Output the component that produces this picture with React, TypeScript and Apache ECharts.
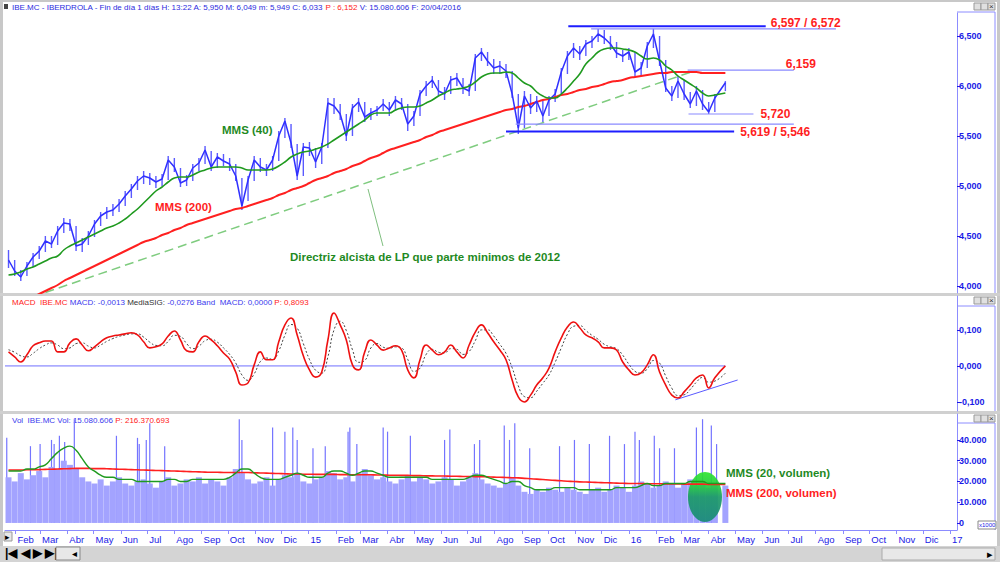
import React, { useEffect, useRef } from "react";
import * as echarts from "echarts";

const FONT = "'Liberation Sans', Arial, sans-serif";

// ---------- data ----------
const priceClose = [
  4.26, 4.15, 4.09, 4.2, 4.29, 4.35, 4.45, 4.42, 4.55, 4.63, 4.62, 4.4, 4.42, 4.5, 4.62, 4.7, 4.74, 4.76, 4.82, 4.9,
  4.97, 5.05, 5.1, 5.08, 5.04, 5.07, 5.26, 5.19, 5.03, 5.06, 5.18, 5.23, 5.36, 5.19, 5.29, 5.25, 5.22, 5.1, 4.8, 5.06,
  5.26, 5.19, 5.16, 5.26, 5.5, 5.65, 5.43, 5.1, 5.39, 5.38, 5.24, 5.39, 5.83, 5.8, 5.72, 5.5, 5.78, 5.84, 5.69, 5.73,
  5.76, 5.82, 5.76, 5.86, 5.82, 5.62, 5.7, 5.92, 6.0, 6.06, 5.95, 5.92, 6.06, 6.08, 5.98, 5.95, 6.28, 6.34, 6.25, 6.18,
  6.2, 6.15, 5.92, 5.58, 5.9, 5.78, 5.85, 5.7, 5.86, 5.92, 6.14, 6.3, 6.38, 6.32, 6.42, 6.45, 6.52, 6.48, 6.42, 6.33,
  6.3, 6.34, 6.14, 6.18, 6.4, 6.52, 6.25, 5.98, 5.9, 6.05, 5.92, 5.82, 5.95, 5.82, 5.74, 5.88, 6.033,
];
const priceHigh = [
  4.36, 4.26, 4.16, 4.24, 4.33, 4.4, 4.5, 4.5, 4.6, 4.68, 4.67, 4.6, 4.48, 4.55, 4.66, 4.74, 4.79, 4.82, 4.87, 4.95,
  5.02, 5.1, 5.15, 5.13, 5.1, 5.12, 5.3, 5.28, 5.18, 5.11, 5.22, 5.28, 5.4, 5.35, 5.33, 5.32, 5.28, 5.22, 5.08, 5.1,
  5.3, 5.28, 5.22, 5.3, 5.55, 5.68, 5.62, 5.42, 5.43, 5.44, 5.38, 5.43, 5.88, 5.88, 5.82, 5.72, 5.82, 5.88, 5.84, 5.78,
  5.8, 5.87, 5.84, 5.9, 5.88, 5.82, 5.75, 5.96, 6.05, 6.1, 6.06, 5.99, 6.1, 6.13, 6.08, 6.02, 6.32, 6.38, 6.34, 6.27,
  6.25, 6.22, 6.15, 5.92, 5.95, 5.92, 5.9, 5.85, 5.9, 5.97, 6.18, 6.35, 6.43, 6.4, 6.46, 6.5, 6.57, 6.56, 6.5, 6.44,
  6.36, 6.38, 6.34, 6.24, 6.44, 6.572, 6.5, 6.26, 6.0, 6.1, 6.06, 5.94, 6.0, 5.96, 5.84, 5.92, 6.049,
];
const priceLow = [
  4.18, 4.1, 4.05, 4.1, 4.19, 4.27, 4.34, 4.38, 4.41, 4.53, 4.55, 4.35, 4.34, 4.41, 4.49, 4.6, 4.67, 4.7, 4.74, 4.8,
  4.88, 4.96, 5.02, 5.01, 4.98, 5.0, 5.06, 5.14, 4.99, 5.0, 5.05, 5.15, 5.22, 5.15, 5.18, 5.2, 5.15, 5.05, 4.76, 4.85,
  5.05, 5.14, 5.1, 5.15, 5.25, 5.48, 5.38, 5.06, 5.1, 5.3, 5.18, 5.22, 5.38, 5.72, 5.66, 5.45, 5.5, 5.74, 5.64, 5.66,
  5.7, 5.75, 5.7, 5.75, 5.76, 5.55, 5.6, 5.7, 5.9, 5.98, 5.9, 5.86, 5.92, 6.0, 5.92, 5.9, 5.95, 6.25, 6.2, 6.12,
  6.12, 6.08, 5.88, 5.52, 5.58, 5.72, 5.74, 5.64, 5.7, 5.84, 5.92, 6.12, 6.28, 6.26, 6.3, 6.38, 6.44, 6.42, 6.36, 6.28,
  6.24, 6.26, 6.1, 6.1, 6.18, 6.38, 6.2, 5.94, 5.85, 5.88, 5.86, 5.78, 5.8, 5.76, 5.72, 5.74, 5.949,
];
const mms40 = [
  4.11, 4.12, 4.14, 4.17, 4.19, 4.22, 4.25, 4.28, 4.3, 4.36, 4.4, 4.43, 4.46, 4.49, 4.52, 4.55, 4.58, 4.6, 4.63, 4.67,
  4.72, 4.77, 4.83, 4.89, 4.95, 4.99, 5.04, 5.08, 5.09, 5.09, 5.11, 5.14, 5.16, 5.18, 5.19, 5.19, 5.19, 5.19, 5.18, 5.16,
  5.16, 5.16, 5.16, 5.17, 5.2, 5.24, 5.29, 5.32, 5.34, 5.35, 5.37, 5.39, 5.42, 5.46, 5.5, 5.54, 5.58, 5.62, 5.66, 5.71,
  5.73, 5.73, 5.73, 5.76, 5.78, 5.79, 5.79, 5.8, 5.83, 5.86, 5.9, 5.93, 5.96, 5.97, 5.98, 6.0, 6.04, 6.09, 6.12, 6.13,
  6.13, 6.14, 6.13, 6.08, 6.03, 6.0, 5.94, 5.9, 5.88, 5.88, 5.92, 5.98, 6.05, 6.12, 6.22, 6.28, 6.34, 6.37, 6.38, 6.38,
  6.37, 6.36, 6.34, 6.3, 6.27, 6.28, 6.26, 6.2, 6.16, 6.1, 6.06, 6.02, 5.98, 5.93, 5.9, 5.91, 5.93,
];
const mms200 = [
  3.77, 3.8, 3.83, 3.86, 3.89, 3.92, 3.95, 3.98, 4.01, 4.05, 4.08, 4.11, 4.14, 4.17, 4.2, 4.23, 4.26, 4.29, 4.32, 4.35,
  4.38, 4.41, 4.44, 4.46, 4.48, 4.51, 4.53, 4.56, 4.58, 4.61, 4.63, 4.65, 4.67, 4.69, 4.71, 4.73, 4.75, 4.77, 4.78, 4.8,
  4.82, 4.84, 4.86, 4.88, 4.91, 4.93, 4.96, 4.98, 5.0, 5.03, 5.06, 5.08, 5.1, 5.13, 5.15, 5.17, 5.2, 5.22, 5.25, 5.28,
  5.3, 5.33, 5.36, 5.38, 5.4, 5.42, 5.44, 5.46, 5.49, 5.51, 5.54, 5.56, 5.58, 5.6, 5.62, 5.64, 5.66, 5.68, 5.7, 5.72,
  5.74, 5.76, 5.77, 5.79, 5.8, 5.82, 5.84, 5.86, 5.87, 5.89, 5.91, 5.92, 5.94, 5.96, 5.97, 5.99, 6.0, 6.02, 6.04, 6.05,
  6.06, 6.08, 6.09, 6.1, 6.11, 6.12, 6.13, 6.13, 6.14, 6.14, 6.14, 6.14, 6.14, 6.13, 6.13, 6.13, 6.13,
];
const macd = [
  0.039, 0.025, 0.011, 0.031, 0.056, 0.064, 0.069, 0.069, 0.039, 0.039, 0.064, 0.075, 0.058, 0.042, 0.053, 0.067, 0.078, 0.083, 0.086, 0.089,
  0.092, 0.086, 0.067, 0.05, 0.053, 0.061, 0.083, 0.097, 0.072, 0.042, 0.039, 0.067, 0.083, 0.072, 0.056, 0.036, 0.019, -0.017, -0.053, -0.047,
  0.003, 0.039, 0.017, 0.017, 0.067, 0.114, 0.133, 0.086, 0.028, -0.011, -0.031, -0.017, 0.072, 0.147, 0.114, 0.072, 0.003, -0.011, 0.039, 0.072,
  0.058, 0.044, 0.05, 0.056, 0.044, -0.011, -0.033, 0.017, 0.058, 0.044, 0.031, 0.039, 0.058, 0.039, 0.022, 0.058, 0.094, 0.114, 0.092, 0.067,
  0.044, 0.017, -0.039, -0.086, -0.1, -0.081, -0.053, -0.033, -0.006, 0.039, 0.078, 0.108, 0.122, 0.106, 0.086, 0.078, 0.067, 0.05, 0.05, 0.044,
  0.011, -0.011, -0.025, -0.019, 0.003, 0.031, -0.017, -0.053, -0.081, -0.089, -0.072, -0.053, -0.033, -0.025, -0.061, -0.033, 0.0,
];
const macdSignal = [
  0.045, 0.038, 0.028, 0.025, 0.035, 0.048, 0.058, 0.064, 0.058, 0.048, 0.05, 0.062, 0.064, 0.055, 0.05, 0.058, 0.068, 0.076, 0.082, 0.086,
  0.089, 0.089, 0.08, 0.066, 0.057, 0.056, 0.068, 0.085, 0.082, 0.062, 0.048, 0.055, 0.07, 0.074, 0.066, 0.05, 0.032, 0.008, -0.025, -0.04,
  -0.022, 0.012, 0.022, 0.018, 0.042, 0.085, 0.115, 0.105, 0.062, 0.018, -0.012, -0.02, 0.025, 0.1, 0.124, 0.098, 0.045, 0.01, 0.015, 0.05,
  0.062, 0.052, 0.049, 0.053, 0.05, 0.018, -0.015, -0.006, 0.032, 0.046, 0.038, 0.036, 0.048, 0.046, 0.032, 0.04, 0.07, 0.1, 0.1, 0.083,
  0.06, 0.035, -0.005, -0.055, -0.085, -0.088, -0.07, -0.048, -0.025, 0.01, 0.05, 0.088, 0.11, 0.112, 0.098, 0.085, 0.074, 0.06, 0.053, 0.048,
  0.03, 0.005, -0.015, -0.02, -0.008, 0.015, 0.008, -0.028, -0.062, -0.082, -0.08, -0.065, -0.045, -0.032, -0.045, -0.042, -0.02,
];
// weekly volume mass, thousands of shares
const volume = [
  22, 20, 24, 21, 23, 25, 22, 27, 26, 30, 28, 26, 22, 20, 19, 21, 18, 20, 22, 19,
  18, 20, 21, 19, 17, 20, 22, 18, 19, 21, 20, 22, 19, 21, 20, 18, 22, 26, 24, 21,
  19, 20, 22, 18, 21, 23, 22, 24, 20, 19, 21, 22, 25, 24, 21, 22, 20, 24, 26, 23,
  21, 22, 20, 19, 21, 23, 20, 22, 21, 19, 20, 22, 21, 18, 20, 22, 24, 21, 19, 18,
  17, 19, 22, 18, 15, 14, 16, 15, 17, 16, 15, 17, 16, 15, 14, 16, 17, 15, 16, 18,
  17, 15, 18, 20, 19, 17, 18, 20, 19, 17, 19, 21, 18, 20, 17, 19, 18,
];
const volMMS20 = [
  25, 25, 25, 26, 26, 27, 28, 31, 34, 36, 37, 35, 31, 27, 25, 23, 22, 22, 21, 21,
  21, 20, 20, 20, 20, 20, 21, 21, 20, 20, 21, 21, 21, 21, 21, 21, 22, 24, 26, 26,
  24, 22, 21, 21, 21, 22, 23, 24, 23, 22, 22, 22, 24, 25, 25, 24, 23, 24, 25, 25,
  24, 23, 22, 22, 22, 22, 22, 22, 22, 21, 21, 21, 21, 21, 21, 22, 23, 23, 22, 21,
  20, 19, 20, 20, 18, 17, 16, 16, 16, 17, 17, 17, 17, 16, 16, 16, 16, 16, 16, 17,
  17, 17, 17, 18, 19, 18, 18, 19, 19, 19, 19, 20, 20, 20, 19, 19, 19,
];
const volMMS200 = [
  25.5, 25.5, 25.5, 25.6, 25.6, 25.7, 25.8, 25.9, 26.0, 26.1, 26.2, 26.3, 26.3, 26.3, 26.2, 26.2, 26.1, 26.0, 25.9, 25.8,
  25.7, 25.6, 25.5, 25.4, 25.3, 25.2, 25.1, 25.0, 24.9, 24.8, 24.7, 24.6, 24.5, 24.4, 24.4, 24.3, 24.3, 24.3, 24.3, 24.3,
  24.2, 24.1, 24.0, 23.9, 23.8, 23.7, 23.6, 23.6, 23.5, 23.5, 23.4, 23.4, 23.4, 23.4, 23.3, 23.3, 23.2, 23.2, 23.2, 23.2,
  23.1, 23.1, 23.0, 23.0, 22.9, 22.9, 22.8, 22.8, 22.7, 22.7, 22.6, 22.6, 22.5, 22.5, 22.4, 22.4, 22.3, 22.3, 22.2, 22.1,
  22.0, 21.9, 21.8, 21.7, 21.5, 21.3, 21.1, 20.9, 20.7, 20.5, 20.3, 20.1, 20.0, 19.8, 19.7, 19.6, 19.5, 19.4, 19.3, 19.2,
  19.1, 19.0, 19.0, 19.0, 18.9, 18.9, 18.9, 18.8, 18.8, 18.8, 18.7, 18.7, 18.7, 18.7, 18.6, 18.6, 18.6,
];
// single-day volume peaks [date, thousands]
const volSpikes: [string, number][] = [
  ["2014-01-22", 41], ["2014-02-18", 37], ["2014-03-01", 38], ["2014-03-14", 40], ["2014-03-17", 38],
  ["2014-03-23", 42], ["2014-03-29", 39], ["2014-04-09", 50], ["2014-05-27", 42], ["2014-06-20", 41],
  ["2014-06-22", 38], ["2014-06-30", 40], ["2014-07-04", 48], ["2014-07-21", 37], ["2014-10-14", 50],
  ["2014-10-17", 40], ["2014-11-21", 46], ["2014-12-05", 44], ["2014-12-14", 46], ["2014-12-19", 40],
  ["2015-01-06", 36], ["2015-01-20", 37], ["2015-02-15", 44], ["2015-02-17", 46], ["2015-02-25", 38],
  ["2015-03-27", 46], ["2015-04-01", 44], ["2015-04-27", 42], ["2015-06-05", 40], ["2015-06-11", 45],
  ["2015-07-09", 38], ["2015-07-15", 40], ["2015-08-12", 47], ["2015-08-18", 40], ["2015-08-24", 48],
  ["2015-09-10", 36], ["2015-10-14", 37], ["2015-10-31", 40], ["2015-11-17", 38], ["2015-12-10", 42],
  ["2015-12-27", 38], ["2016-01-08", 44], ["2016-01-13", 40], ["2016-01-30", 42], ["2016-02-05", 36],
  ["2016-02-22", 36], ["2016-03-18", 46], ["2016-03-25", 50], ["2016-04-04", 47], ["2016-04-10", 38],
];

const monthNames = ["Ene", "Feb", "Mar", "Abr", "May", "Jun", "Jul", "Ago", "Sep", "Oct", "Nov", "Dic"];
const priceTicks = [4, 4.5, 5, 5.5, 6, 6.5];
const macdTicks = [-0.1, 0, 0.1];
const volTicks = [0, 10, 20, 30, 40];

// support / resistance levels
const levels: { from: string; to: string; value: number; heavy: boolean; label?: string; dx?: number; dy?: number }[] = [
  { from: "2015-10-24", to: "2016-06-05", value: 6.597, heavy: true, label: "6,597 / 6,572", dx: 5, dy: -3 },
  { from: "2015-11-19", to: "2016-08-24", value: 6.572, heavy: false },
  { from: "2016-03-08", to: "2016-07-07", value: 6.159, heavy: false, label: "6,159", dx: -8, dy: -6 },
  { from: "2016-03-09", to: "2016-05-22", value: 5.72, heavy: false, label: "5,720", dx: 7, dy: 0 },
  { from: "2015-08-25", to: "2016-07-07", value: 5.619, heavy: false },
  { from: "2015-08-14", to: "2016-04-30", value: 5.546, heavy: true, label: "5,619 / 5,546", dx: 6, dy: 1 },
];
const trendLine: [string, number][] = [["2014-02-20", 3.89], ["2016-03-12", 6.14]];
const macdSupport: [string, number][] = [["2016-02-23", -0.094], ["2016-05-04", -0.039]];

// ---------- helpers ----------
const ts = (s: string) => {
  const [y, m, d] = s.split("-").map(Number);
  return new Date(y, m - 1, d).getTime();
};
const N = priceClose.length;
const dates = priceClose.map((_, i) => (i === N - 1 ? ts("2016-04-20") : new Date(2014, 0, 24 + 7 * i).getTime()));
const pair = (arr: number[]) => arr.map((v, i) => [dates[i], v]);
const monthTicks: number[] = [];
for (let y = 2014; y <= 2017; y++) for (let m = 0; m < 12; m++) {
  const t = new Date(y, m, 1).getTime();
  if (t >= ts("2014-02-01") && t <= ts("2017-01-01")) monthTicks.push(t);
}
const X_MIN = ts("2014-01-20");
const X_MAX = ts("2017-01-09");

const BLUE_TXT = "#1a1ae6";
const AXIS_BLUE = "#8c8cff";
const ANN = { fontWeight: "bold", fontSize: 11.5, fontFamily: FONT };

export default function App() {
  const ref = useRef<HTMLDivElement>(null);
  useEffect(() => {
    document.body.style.margin = "0";
    const chart = echarts.init(ref.current!, undefined, { renderer: "svg" });
    const grids = [
      { left: 5, right: 43, top: 13, height: 280 },
      { left: 5, right: 43, top: 296, height: 115 },
      { left: 5, right: 43, top: 414, height: 116 },
    ];
    const xAxes = grids.map((_, i) => ({
      type: "value",
      gridIndex: i,
      min: X_MIN,
      max: X_MAX,
      show: i === 2,
      axisLine: { show: true, onZero: false, lineStyle: { color: AXIS_BLUE, width: 1 } },
      axisTick: { show: true, length: 4, customValues: monthTicks, lineStyle: { color: AXIS_BLUE } },
      axisLabel: {
        show: true,
        customValues: monthTicks,
        align: "left",
        margin: 4,
        padding: [0, 0, 0, 2],
        color: BLUE_TXT,
        fontFamily: FONT,
        fontSize: 9.5,
        formatter: (v: number) => {
          const d = new Date(v);
          return d.getMonth() === 0 ? String(d.getFullYear() % 100) : monthNames[d.getMonth()];
        },
      },
      splitLine: { show: false },
    }));
    const yBase = {
      type: "value",
      position: "right",
      axisLine: { show: true, lineStyle: { color: AXIS_BLUE } },
      axisTick: { show: true, length: 3, lineStyle: { color: BLUE_TXT } },
      splitLine: { show: false },
    };
    const lblStyle = { color: BLUE_TXT, fontFamily: FONT, fontSize: 9, fontWeight: "bold", margin: 2 };
    const yAxes = [
      {
        ...yBase, gridIndex: 0, min: 3.93, max: 6.73,
        axisTick: { ...yBase.axisTick, customValues: priceTicks },
        axisLabel: { ...lblStyle, customValues: priceTicks, formatter: (v: number) => v.toFixed(3).replace(".", ",") },
      },
      {
        ...yBase, gridIndex: 1, min: -0.125, max: 0.194,
        axisTick: { ...yBase.axisTick, customValues: macdTicks },
        axisLabel: { ...lblStyle, customValues: macdTicks, formatter: (v: number) => v.toFixed(3).replace(".", ",") },
      },
      {
        ...yBase, gridIndex: 2, min: -3.4, max: 52.5,
        axisTick: { ...yBase.axisTick, customValues: volTicks },
        axisLabel: { ...lblStyle, customValues: volTicks, formatter: (v: number) => (v === 0 ? "0" : v + ".000") },
      },
    ];

    const line = (data: any[], color: string, width: number, xi: number, extra: any = {}) => ({
      type: "line", xAxisIndex: xi, yAxisIndex: xi, data, symbol: "none", silent: true,
      lineStyle: { color, width }, ...extra,
    });

    const levelSeries = levels.map((l) =>
      line([[ts(l.from), l.value], [ts(l.to), l.value]], l.heavy ? "#1e1eff" : "#8a8aff", l.heavy ? 2 : 1.2, 0, {
        z: 5,
        endLabel: l.label
          ? { show: true, formatter: l.label, color: "#ff1e1e", fontWeight: "bold", fontSize: 12, fontFamily: FONT, offset: [l.dx, l.dy], distance: 0 }
          : { show: false },
      })
    );

    const option: any = {
      animation: false,
      backgroundColor: "#ffffff",
      grid: grids,
      xAxis: xAxes,
      yAxis: yAxes,
      series: [
        line(trendLine.map(([d, v]) => [ts(d), v]), "#7fcc7f", 1.5, 0, { lineStyle: { color: "#7fcc7f", width: 1.5, type: [9, 5] } }),
        line(pair(mms200), "#ff2020", 2, 0, { smooth: true }),
        {
          type: "custom", xAxisIndex: 0, yAxisIndex: 0, silent: true, z: 3,
          data: priceClose.map((_, i) => [dates[i], priceLow[i], priceHigh[i]]),
          renderItem: (_p: any, api: any) => {
            const lo = api.coord([api.value(0), api.value(1)]);
            const hi = api.coord([api.value(0), api.value(2)]);
            return { type: "line", shape: { x1: lo[0], y1: lo[1], x2: hi[0], y2: hi[1] }, style: { stroke: "#5a5aff", lineWidth: 1.4 } };
          },
        },
        line(pair(priceClose), "#3030ff", 1.5, 0, { z: 4 }),
        line(pair(mms40), "#1f9a1f", 1.6, 0, { smooth: true, z: 5 }),
        ...levelSeries,
        line([[X_MIN, 0], [ts("2016-04-20"), 0]], "#7070ff", 1, 1),
        line(macdSupport.map(([d, v]) => [ts(d), v]), "#5a5aff", 1, 1),
        line(pair(macdSignal), "#444444", 1, 1, { smooth: true, lineStyle: { color: "#444444", width: 1, type: [2, 2] } }),
        line(pair(macd), "#ee1111", 1.6, 1, { smooth: true }),
        {
          type: "bar", xAxisIndex: 2, yAxisIndex: 2, data: pair(volume), barWidth: 6, silent: true,
          itemStyle: { color: "#a3a3ff" },
        },
        {
          type: "custom", xAxisIndex: 2, yAxisIndex: 2, silent: true,
          data: volSpikes.map(([d, v]) => [ts(d), v]),
          renderItem: (_p: any, api: any) => {
            const top = api.coord([api.value(0), api.value(1)]);
            const bot = api.coord([api.value(0), 0]);
            return { type: "line", shape: { x1: top[0], y1: top[1], x2: bot[0], y2: bot[1] }, style: { stroke: "#7474ff", lineWidth: 1.2 } };
          },
        },
        line(pair(volMMS200), "#ff2020", 1.6, 2, { smooth: true, z: 6 }),
        line(pair(volMMS20), "#1f9a1f", 1.4, 2, { smooth: true, z: 6 }),
      ],
      graphic: [
        { type: "rect", z: -10, shape: { x: 0, y: 0, width: 1000, height: 2 }, style: { fill: "#c8c8c8" } },
        { type: "rect", z: -10, shape: { x: 0, y: 0, width: 3, height: 562 }, style: { fill: "#c8c8c8" } },
        { type: "rect", z: -10, shape: { x: 997, y: 0, width: 3, height: 562 }, style: { fill: "#c8c8c8" } },
        { type: "rect", z: -10, shape: { x: 0, y: 293, width: 1000, height: 3 }, style: { fill: "#d0d0d0" } },
        { type: "rect", z: -10, shape: { x: 0, y: 411, width: 1000, height: 3 }, style: { fill: "#d0d0d0" } },
        { type: "rect", z: -10, shape: { x: 0, y: 546, width: 1000, height: 16 }, style: { fill: "#d4d4d4" } },
        { type: "line", z: -9, shape: { x1: 957, y1: 12, x2: 995, y2: 12 }, style: { stroke: AXIS_BLUE } },
        { type: "line", z: -9, shape: { x1: 995, y1: 12, x2: 995, y2: 293 }, style: { stroke: AXIS_BLUE } },
        { type: "line", z: -9, shape: { x1: 957, y1: 306, x2: 995, y2: 306 }, style: { stroke: AXIS_BLUE } },
        { type: "line", z: -9, shape: { x1: 995, y1: 306, x2: 995, y2: 411 }, style: { stroke: AXIS_BLUE } },
        { type: "line", z: -9, shape: { x1: 957, y1: 423, x2: 995, y2: 423 }, style: { stroke: AXIS_BLUE } },
        { type: "line", z: -9, shape: { x1: 995, y1: 423, x2: 995, y2: 530 }, style: { stroke: AXIS_BLUE } },
        { type: "rect", shape: { x: 978, y: 521, width: 18, height: 8 }, style: { fill: "#fff", stroke: "#888" } },
        { type: "text", x: 979, y: 522, style: { text: "x1000", fontSize: 6, fontFamily: FONT, fill: BLUE_TXT } },
        ...[3, 297, 415].flatMap((y) => [
          { type: "rect", shape: { x: 974, y, width: 7, height: 7 }, style: { fill: "#e0e0e0", stroke: "#999" } },
          { type: "rect", shape: { x: 981, y, width: 7, height: 7 }, style: { fill: "#e0e0e0", stroke: "#999" } },
          { type: "rect", shape: { x: 988, y, width: 7, height: 7 }, style: { fill: "#e0e0e0", stroke: "#999" } },
          { type: "text", x: 989, y: y - 1, style: { text: "×", fontSize: 8, fontFamily: FONT, fill: "#333" } },
        ]),
        { type: "rect", shape: { x: 4, y: 532, width: 8, height: 9 }, style: { fill: "#e8e8e8", stroke: "#999" } },
        { type: "text", x: 5, y: 532, style: { text: "▸", fontSize: 9, fill: "#000" } },
        { type: "text", x: 5, y: 547, style: { text: "|◀ ◀ ▶ ▶|", fontSize: 12, fontFamily: FONT, fill: "#000", fontWeight: "bold" } },
        { type: "rect", shape: { x: 56, y: 547, width: 24, height: 13 }, style: { fill: "#e8e8e8", stroke: "#888" } },
        { type: "text", x: 72, y: 548, style: { text: "◂", fontSize: 10, fill: "#000" } },
        { type: "rect", shape: { x: 882, y: 548, width: 113, height: 12 }, style: { fill: "#e8e8e8", stroke: "#aaa" } },
        { type: "text", x: 987, y: 548, style: { text: "▸", fontSize: 11, fill: "#000" } },
        {
          type: "text", x: 12, y: 3,
          style: {
            text: "{b|IBE.MC - IBERDROLA - Fin de día 1 días H: 13:22 A: 5,950 M: 6,049 m: 5,949 C: 6,033 }{r|P : 6,152}{b| V: 15.080.606 F: 20/04/2016}",
            rich: { b: { fill: "#2b2be0", fontSize: 8, fontFamily: FONT }, r: { fill: "#ff2020", fontSize: 8, fontFamily: FONT } },
          },
        },
        { type: "rect", shape: { x: 4, y: 4, width: 4, height: 5 }, style: { fill: "#444" } },
        {
          type: "text", x: 12, y: 298,
          style: {
            text: "{r|MACD  IBE.MC }{b|MACD: -0,0013 }{k|MediaSIG: }{b|-0,0276 Band  MACD: 0,0000 }{r|P: 0,8093}",
            rich: {
              b: { fill: "#3a3aee", fontSize: 8, fontFamily: FONT },
              r: { fill: "#ff2020", fontSize: 8, fontFamily: FONT },
              k: { fill: "#333", fontSize: 8, fontFamily: FONT },
            },
          },
        },
        {
          type: "text", x: 12, y: 416,
          style: {
            text: "{b|Vol  IBE.MC Vol: 15.080.606 }{r|P: 216.370.693}",
            rich: { b: { fill: "#3a3aee", fontSize: 8, fontFamily: FONT }, r: { fill: "#ff2020", fontSize: 8, fontFamily: FONT } },
          },
        },
        { type: "text", x: 222, y: 124, z: 10, style: { text: "MMS (40)", fill: "#1f8a1f", ...ANN } },
        { type: "text", x: 155, y: 201, z: 10, style: { text: "MMS (200)", fill: "#ff1e1e", ...ANN } },
        { type: "line", z: 10, shape: { x1: 368, y1: 189, x2: 383, y2: 246 }, style: { stroke: "#7fbf7f", lineWidth: 1 } },
        { type: "text", x: 290, y: 251, z: 10, style: { text: "Directriz alcista de LP que parte minimos de 2012", fill: "#1f8a1f", ...ANN } },
        {
          type: "ellipse", z: 4, shape: { cx: 705, cy: 497, rx: 17, ry: 25 },
          style: {
            opacity: 0.92,
            fill: { type: "linear", x: 0, y: 0, x2: 0, y2: 1, colorStops: [
              { offset: 0, color: "#2ee62e" }, { offset: 0.3, color: "#22c840" }, { offset: 0.5, color: "#1a9a66" }, { offset: 1, color: "#188a78" },
            ] },
          },
        },
        { type: "text", x: 726, y: 467, z: 10, style: { text: "MMS (20, volumen)", fill: "#1f8a1f", ...ANN } },
        { type: "text", x: 726, y: 487, z: 10, style: { text: "MMS (200, volumen)", fill: "#ff1e1e", ...ANN } },
      ],
    };
    chart.setOption(option);
    return () => chart.dispose();
  }, []);
  return <div ref={ref} style={{ position: "fixed", left: 0, top: 0, width: 1000, height: 562 }} />;
}
